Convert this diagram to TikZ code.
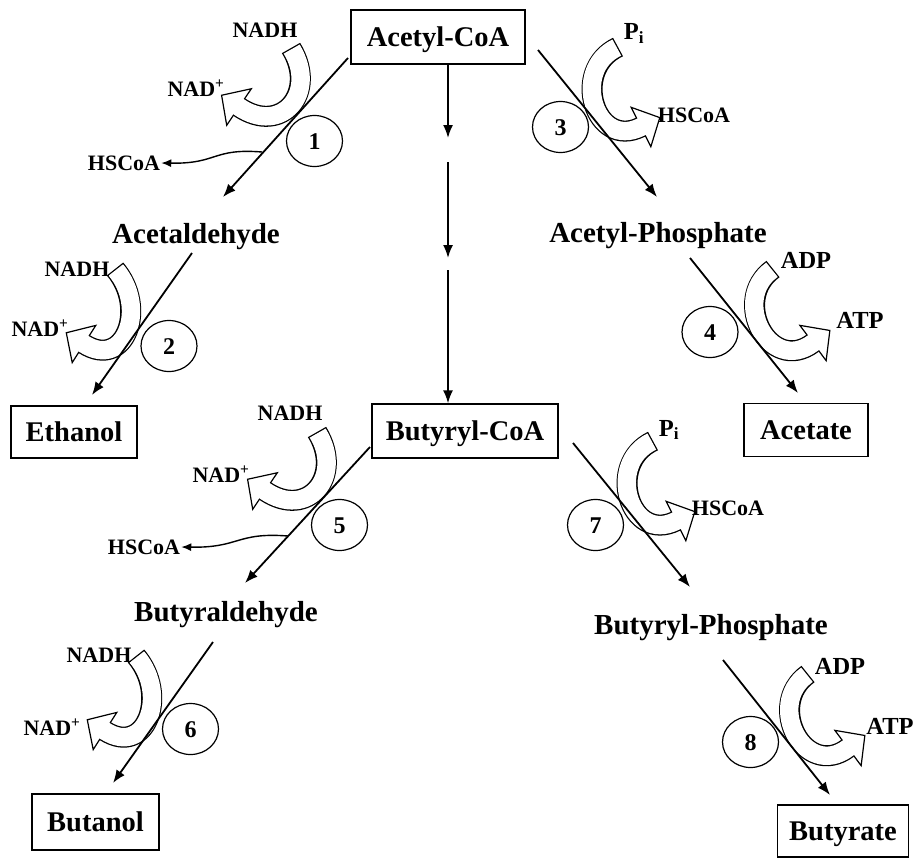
\documentclass[tikz,border=0pt]{standalone}
\usepackage{fontspec}
\setmainfont{Liberation Serif}
\usetikzlibrary{calc,arrows.meta,shapes.geometric}
\newcommand\bentarr[4]{%
  \draw[line width=21pt, line cap=butt, line join=round] (#1) .. controls (#2) and (#3) .. (#4);
  \draw[line width=1.2pt, fill=white, line join=miter] ($(#4)!22pt!90:(#3)$) -- ($(#4)!-21pt!(#3)$) -- ($(#4)!22pt!-90:(#3)$) -- cycle;
  \draw[white, line width=18.4pt, line cap=butt] ($(#1)!1.3pt!(#2)$) .. controls (#2) and (#3) .. (#4) -- ($(#4)!-1.6pt!(#3)$);
}
\begin{document}
\begin{tikzpicture}[x=1pt,y=-1pt,
  box/.style={draw, line width=1.3pt, inner sep=0pt, minimum height=54pt, text height=19pt, text depth=0pt, font=\fontsize{28.5}{30}\selectfont\bfseries},
  mol/.style={inner sep=0pt, text height=19pt, text depth=0pt, font=\fontsize{29}{30}\selectfont\bfseries},
  lab/.style={inner sep=1pt, text height=14.5pt, text depth=0pt, font=\fontsize{22}{24}\selectfont\bfseries},
  labB/.style={inner sep=1pt, text height=16pt, text depth=0pt, font=\fontsize{24.5}{26}\selectfont\bfseries},
  enz/.style={ellipse, draw, line width=1.2pt, minimum width=56pt, minimum height=51pt, inner sep=0pt, text height=16pt, text depth=0pt, font=\fontsize{24}{26}\selectfont\bfseries},
  rxn/.style={line width=1.8pt, -{Latex[length=13pt,width=10pt]}},
  side/.style={line width=1.4pt, -{Latex[length=10pt,width=8pt]}}
]
\fill[white] (0,0) rectangle (920,859);
\useasboundingbox (0,0) rectangle (920,859);

% bent co-factor arrows (drawn first, under the reaction lines)
\bentarr{291,48}{318,92}{282,136}{239,107}
\bentarr{115,269}{148,308}{125,370}{84,344}
\bentarr{618,47}{570,70}{595,150}{641,127}
\bentarr{773,269}{730,300}{770,375}{813,343}
\bentarr{317,432}{344,476}{308,520}{265,491}
\bentarr{136,656}{169,695}{146,757}{105,731}
\bentarr{653,441}{605,464}{630,544}{676,521}
\bentarr{808,674}{765,705}{805,780}{848,748}

% main compounds
\node[box, minimum width=174pt] (acoa) at (438,37) {Acetyl-CoA};
\node[box, minimum width=186pt] (bcoa) at (465,431) {Butyryl-CoA};
\node[box, minimum width=126pt, minimum height=52pt] (eth) at (74,432) {Ethanol};
\node[box, minimum width=124pt, minimum height=53pt] (acet) at (806,430) {Acetate};
\node[box, minimum width=127pt, minimum height=56pt] (buol) at (95.5,822) {Butanol};
\node[box, minimum width=131pt, minimum height=52pt] (buat) at (843,831) {Butyrate};
\node[mol] (acald) at (196,234) {Acetaldehyde};
\node[mol] (aceP) at (658,233) {Acetyl-Phosphate};
\node[mol] (bald) at (226,612) {Butyraldehyde};
\node[mol] (buP) at (711,625) {Butyryl-Phosphate};

% co-factor labels
\node[lab] (nadh1) at (265,30) {NADH};
\node[lab] (nadp1) at (196,89) {NAD\textsuperscript{+}};
\node[lab] (hs1) at (124,163) {HSCoA};
\node[lab] (nadh2) at (77,269) {NADH};
\node[lab] (nadp2) at (40,329) {NAD\textsuperscript{+}};
\node[labB] (pi3) at (634,32) {P\textsubscript{i}};
\node[lab] (hs3) at (694,115) {HSCoA};
\node[labB] (adp4) at (806,260) {ADP};
\node[labB] (atp4) at (860,320) {ATP};
\node[lab] (nadh5) at (290,413) {NADH};
\node[lab] (nadp5) at (221,475) {NAD\textsuperscript{+}};
\node[lab] (hs5) at (144,547) {HSCoA};
\node[lab] (nadh6) at (99,655) {NADH};
\node[lab] (nadp6) at (52,728) {NAD\textsuperscript{+}};
\node[labB] (pi7) at (669,428) {P\textsubscript{i}};
\node[lab] (hs7) at (728,508) {HSCoA};
\node[labB] (adp8) at (840,666) {ADP};
\node[labB] (atp8) at (890,726) {ATP};

% reaction lines
\draw[rxn] ($(acoa)+(-90,21)$) -- ($(acald)+(27,-37)$);
\draw[rxn] ($(acald)+(-4,19)$) -- ($(eth)+(18,-37)$);
\draw[rxn] ($(acoa)+(100,13)$) -- ($(aceP)+(-1,-36)$);
\draw[rxn] ($(aceP)+(32,25)$) -- ($(acet)+(-8,-37)$);
\draw[rxn] ($(bcoa)+(-95,16)$) -- ($(bald)+(19,-29)$);
\draw[rxn] ($(bald)+(-13,30)$) -- ($(buol)+(17.5,-39)$);
\draw[rxn] ($(bcoa)+(108,12)$) -- ($(buP)+(-21,-38)$);
\draw[rxn] ($(buP)+(12,35)$) -- ($(buat)+(-13,-36)$);

% central multi-step pathway
\coordinate (m1) at (448,138);
\coordinate (m2) at (448,162);
\coordinate (m3) at (448,258);
\coordinate (m4) at (448,270);
\draw[rxn] (acoa.south -| m1) -- (m1);
\draw[rxn] (m2) -- (m3);
\draw[rxn] (m4) -- (bcoa.north -| m4);

% enzyme numbers
\node[enz] (e1) at (314.5,141) {1};
\node[enz] (e2) at (169,346) {2};
\node[enz] (e3) at (560.5,127) {3};
\node[enz] (e4) at (710,332) {4};
\node[enz] (e5) at (339.5,525) {5};
\node[enz] (e6) at (190.5,729) {6};
\node[enz] (e7) at (595.5,525) {7};
\node[enz] (e8) at (750.5,742) {8};

% HSCoA release arrows
\coordinate (h1) at (262,152);
\coordinate (h5) at (288,536);
\draw[side] (h1) .. controls (212,148) and (218,164) .. (hs1.east);
\draw[side] (h5) .. controls (236,532) and (240,548) .. (hs5.east);
\end{tikzpicture}
\end{document}
